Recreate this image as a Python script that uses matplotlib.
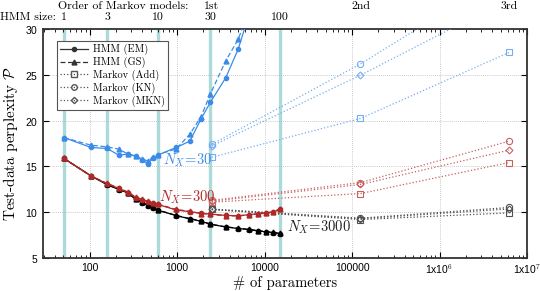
import matplotlib
matplotlib.use("Agg")
import matplotlib.pyplot as plt
from matplotlib.lines import Line2D
from matplotlib.ticker import FixedLocator, FuncFormatter, LogLocator, NullFormatter

plt.rcParams['mathtext.fontset'] = 'cm'
plt.rcParams['axes.formatter.use_mathtext'] = True

SERIF = 'cmr10'
SANS = 'Liberation Sans'

# ---------------- data ----------------
hmm_sizes = [1, 3, 10, 30, 100]
hmm_size_params = [51, 159, 600, 2400, 15000]
markov_orders = ['1st', '2nd', '3rd']
markov_params = [2500, 125000, 6250000]

hmm_params = [51, 104, 159, 216, 275, 336, 399, 464, 531, 600, 975, 1400,
              1875, 2400, 3600, 5000, 6600, 8400, 10400, 12600, 15000]

# N_X = 3000 (black)
em_3000 = [15.87, 13.97, 13.0, 12.48, 12.11, 11.39, 11.02, 10.73, 10.51, 10.22,
           9.64, 9.27, 9.02, 8.69, 8.39, 8.22, 8.11, 7.96, 7.85, 7.78, 7.67]
gs_3000 = [15.87, 13.95, 13.05, 12.5, 12.15, 11.45, 11.1, 10.8, 10.55, 10.25,
           9.65, 9.3, 9.05, 8.7, 8.4, 8.25, 8.12, 8.0, 7.88, 7.8, 7.7]
# N_X = 300 (red)
em_300 = [15.87, 13.95, 13.1, 12.6, 12.15, 11.6, 11.35, 11.15, 11.0, 10.85,
          10.25, 10.05, 9.9, 9.8, 9.65, 9.62, 9.72, 9.85, 9.95, 10.02, 10.3]
gs_300 = [15.87, 13.95, 13.15, 12.65, 12.2, 11.65, 11.4, 11.2, 11.02, 10.9,
          10.3, 10.1, 9.85, 9.78, 9.6, 9.6, 9.7, 9.8, 9.9, 10.05, 10.38]
# N_X = 30 (blue)
em_30 = [18.15, 17.07, 16.96, 16.23, 16.34, 16.12, 15.68, 15.32, 15.87, 16.23,
         17.07, 17.76, 20.17, 21.99, 24.68, 27.81, 31.5]
gs_30 = [18.15, 17.32, 17.14, 16.89, 16.35, 16.15, 15.8, 15.6, 16.0, 16.3,
         16.9, 18.52, 20.42, 22.9, 26.54, 28.87, 32.0]

# Markov models, orders 1..3
add_3000 = [10.3, 9.2, 9.93]
kn_3000 = [10.35, 9.35, 10.52]
mkn_3000 = [10.3, 9.3, 10.36]
add_300 = [11.1, 12.04, 15.43]
kn_300 = [11.3, 13.24, 17.76]
mkn_300 = [11.2, 13.03, 16.78]
add_30 = [16.0, 20.24, 27.45]
kn_30 = [17.43, 26.2, 36.2]
mkn_30 = [17.25, 24.97, 33.3]

# ---------------- styling ----------------
C_BLACK = '#000000'
C_RED = '#b02828'
C_BLUE = '#3a8ce8'
CM_BLACK = '#505050'
CM_RED = '#c86060'
CM_BLUE = '#74aef2'
TEAL = '#acdada'

fig = plt.figure(figsize=(5.4, 2.91), dpi=100)
ax = fig.add_axes([0.0802, 0.1134, 0.8957, 0.7866])
ax.set_xscale('log')
ax.set_xlim(29.6, 1e7)
ax.set_ylim(5, 30)

for xp in hmm_size_params:
    ax.axvline(xp, color=TEAL, lw=2.4, zorder=1)

ax.grid(True, which='major', color='#b8b8b8', ls=(0, (1, 1.5)), lw=0.6, zorder=0)

def hmm(y_em, y_gs, c):
    n = len(y_em)
    ax.plot(hmm_params[:n], y_em, '-', color=c, marker='o', ms=3, lw=0.9, zorder=4)
    ax.plot(hmm_params[:n], y_gs, '--', color=c, marker='^', ms=3.5, lw=0.9,
            dashes=(4, 2), zorder=4)

hmm(em_3000, gs_3000, C_BLACK)
hmm(em_300, gs_300, C_RED)
hmm(em_30, gs_30, C_BLUE)

def markov(add, kn, mkn, c):
    kw = dict(ls=':', lw=0.9, color=c, mfc='none', mec=c, mew=0.8, zorder=3)
    ax.plot(markov_params, add, marker='s', ms=4.5, **kw)
    ax.plot(markov_params, kn, marker='o', ms=4.5, **kw)
    ax.plot(markov_params, mkn, marker='D', ms=3.5, **kw)

markov(add_3000, kn_3000, mkn_3000, CM_BLACK)
markov(add_300, kn_300, mkn_300, CM_RED)
markov(add_30, kn_30, mkn_30, CM_BLUE)

# curve labels
ax.text(690, 15.7, r'$N_X\!=\!30$', color=C_BLUE, fontsize=10.5, va='center', ha='left', zorder=6)
ax.text(620, 11.6, r'$N_X\!=\!300$', color=C_RED, fontsize=10.5, va='center', ha='left', zorder=6)
ax.text(18000, 8.35, r'$N_X\!=\!3000$', color='#202020', fontsize=10.5, va='center', ha='left', zorder=6)

# ticks
ax.xaxis.set_major_locator(FixedLocator([100, 1000, 10000, 100000, 1e6, 1e7]))
ax.xaxis.set_minor_locator(LogLocator(base=10, subs=[2, 3, 4, 5, 6, 7, 8, 9], numticks=20))
ax.xaxis.set_minor_formatter(NullFormatter())
labels_x = {100: '100', 1000: '1000', 10000: '10000', 100000: '100000',
            1e6: r'1x10$^{6}$', 1e7: r'1x10$^{7}$'}
ax.xaxis.set_major_formatter(FuncFormatter(lambda v, p: labels_x.get(v, '')))
ax.set_yticks([5, 10, 15, 20, 25, 30])
ax.tick_params(which='both', direction='in', top=True, right=True, labelsize=7.5)
ax.tick_params(which='major', length=4)
ax.tick_params(which='minor', length=2)
for lab in ax.get_xticklabels() + ax.get_yticklabels():
    lab.set_fontfamily(SANS)
for s in ax.spines.values():
    s.set_linewidth(1.3)
    s.set_color('#333333')

ax.set_xlabel('# of parameters', fontfamily=SERIF, fontsize=10.5, labelpad=0)
ax.set_ylabel(r'Test-data perplexity $\mathcal{P}$', fontfamily=SERIF, fontsize=11, labelpad=4)

# top annotations
for xp, s in zip(hmm_size_params, hmm_sizes):
    xf = fig.transFigure.inverted().transform(ax.transData.transform((xp, 5)))[0]
    fig.text(xf, 0.942, str(s), ha='center', va='center', fontfamily=SERIF, fontsize=8.5)
for xp, s in zip(markov_params, markov_orders):
    xf = fig.transFigure.inverted().transform(ax.transData.transform((xp, 5)))[0]
    fig.text(xf, 0.978, s, ha='center', va='center', fontfamily=SERIF, fontsize=8.5)
fig.text(0.0, 0.942, 'HMM size:', ha='left', va='center', fontfamily=SERIF, fontsize=8.5)
fig.text(0.107, 0.978, 'Order of Markov models:', ha='left', va='center', fontfamily=SERIF, fontsize=8.5)

# legend
handles = [
    Line2D([], [], color='#333333', ls='-', marker='o', ms=3, lw=0.9),
    Line2D([], [], color='#333333', ls='--', marker='^', ms=3.5, lw=0.9, dashes=(4, 2)),
    Line2D([], [], color='#555555', ls=':', marker='s', ms=4, mfc='none', lw=0.9),
    Line2D([], [], color='#555555', ls=':', marker='o', ms=4, mfc='none', lw=0.9),
    Line2D([], [], color='#555555', ls=':', marker='D', ms=3.2, mfc='none', lw=0.9),
]
names = ['HMM (EM)', 'HMM (GS)', 'Markov (Add)', 'Markov (KN)', 'Markov (MKN)']
leg = ax.legend(handles, names, loc='upper left', bbox_to_anchor=(0.028, 0.95),
                prop={'family': SERIF, 'size': 7.5}, fancybox=False, framealpha=1,
                edgecolor='#555555', borderpad=0.35, labelspacing=0.15,
                handlelength=2.6, handletextpad=0.5, borderaxespad=0)
leg.get_frame().set_linewidth(0.8)
leg.set_zorder(10)

fig.savefig('out.png', dpi=100)
